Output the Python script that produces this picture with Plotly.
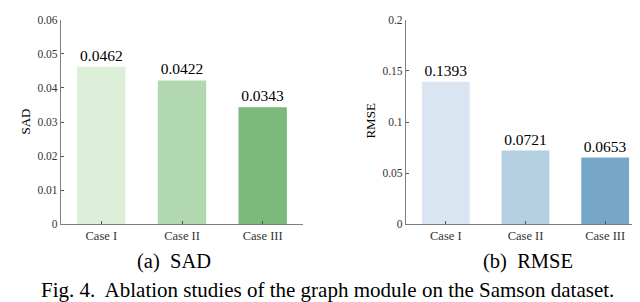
import plotly.graph_objects as go

categories = ["Case I", "Case II", "Case III"]
sad_values = [0.0462, 0.0422, 0.0343]
rmse_values = [0.1393, 0.0721, 0.0653]
sad_colors = ["#ddeed9", "#b2d8b0", "#7cb97c"]
rmse_colors = ["#d9e5f1", "#b4cfe1", "#76a7c7"]
sad_ticks = [0, 0.01, 0.02, 0.03, 0.04, 0.05, 0.06]
sad_ticktext = ["0", "0.01", "0.02", "0.03", "0.04", "0.05", "0.06"]
rmse_ticks = [0, 0.05, 0.1, 0.15, 0.2]
rmse_ticktext = ["0", "0.05", "0.1", "0.15", "0.2"]

W, H = 640, 302
FONT = "Liberation Serif"
AX = "#7f7f7f"

fig = go.Figure()
fig.add_trace(go.Bar(x=categories, y=sad_values, marker=dict(color=sad_colors, line=dict(width=0)),
                     width=0.6, texttemplate="%{y:.4f}", textposition="outside",
                     textfont=dict(family=FONT, size=15.5, color="#000"), cliponaxis=False,
                     xaxis="x", yaxis="y"))
fig.add_trace(go.Bar(x=categories, y=rmse_values, marker=dict(color=rmse_colors, line=dict(width=0)),
                     width=0.6, texttemplate="%{y:.4f}", textposition="outside",
                     textfont=dict(family=FONT, size=15.5, color="#000"), cliponaxis=False,
                     xaxis="x2", yaxis="y2"))

def px(x):
    return x / W

def py(y):
    return 1 - y / H

axcommon = dict(showline=True, linecolor=AX, linewidth=1.3, ticks="inside", tickcolor="#555",
                ticklen=3, showgrid=False, zeroline=False, layer="above traces",
                ticklabeloverflow="allow")
xfont = dict(family=FONT, size=12.5, color="#333")
yfont = dict(family=FONT, size=11.5, color="#333")

fig.update_layout(
    width=W, height=H, margin=dict(l=0, r=0, t=0, b=0),
    paper_bgcolor="white", plot_bgcolor="white", showlegend=False, bargap=0.4,
    xaxis=dict(domain=[px(53), px(295)], anchor="y", range=[-0.5, 2.5], tickfont=xfont, **axcommon),
    yaxis=dict(domain=[py(219), py(6)], anchor="x", range=[0, 0.06], tickvals=sad_ticks,
               ticktext=sad_ticktext, tickfont=yfont, **axcommon),
    xaxis2=dict(domain=[px(398), px(637)], anchor="y2", range=[-0.5, 2.5], tickfont=xfont, **axcommon),
    yaxis2=dict(domain=[py(219), py(6)], anchor="x2", range=[0, 0.2], tickvals=rmse_ticks,
                ticktext=rmse_ticktext, tickfont=yfont, **axcommon),
)

anns = [
    dict(text="SAD", x=px(18), y=py(112), textangle=-90, size=13),
    dict(text="RMSE", x=px(363), y=py(112), textangle=-90, size=13),
    dict(text="(a)  SAD", x=px(166), y=py(258), textangle=0, size=20.5),
    dict(text="(b)  RMSE", x=px(520), y=py(258), textangle=0, size=20.5),
    dict(text="Fig. 4.  Ablation studies of the graph module on the Samson dataset.",
         x=px(319), y=py(287), textangle=0, size=21),
]
for a in anns:
    fig.add_annotation(text=a["text"], x=a["x"], y=a["y"], xref="paper", yref="paper",
                       xanchor="center", yanchor="middle", showarrow=False, textangle=a["textangle"],
                       font=dict(family=FONT, size=a["size"], color="#000"))

fig.write_html("out.html")
